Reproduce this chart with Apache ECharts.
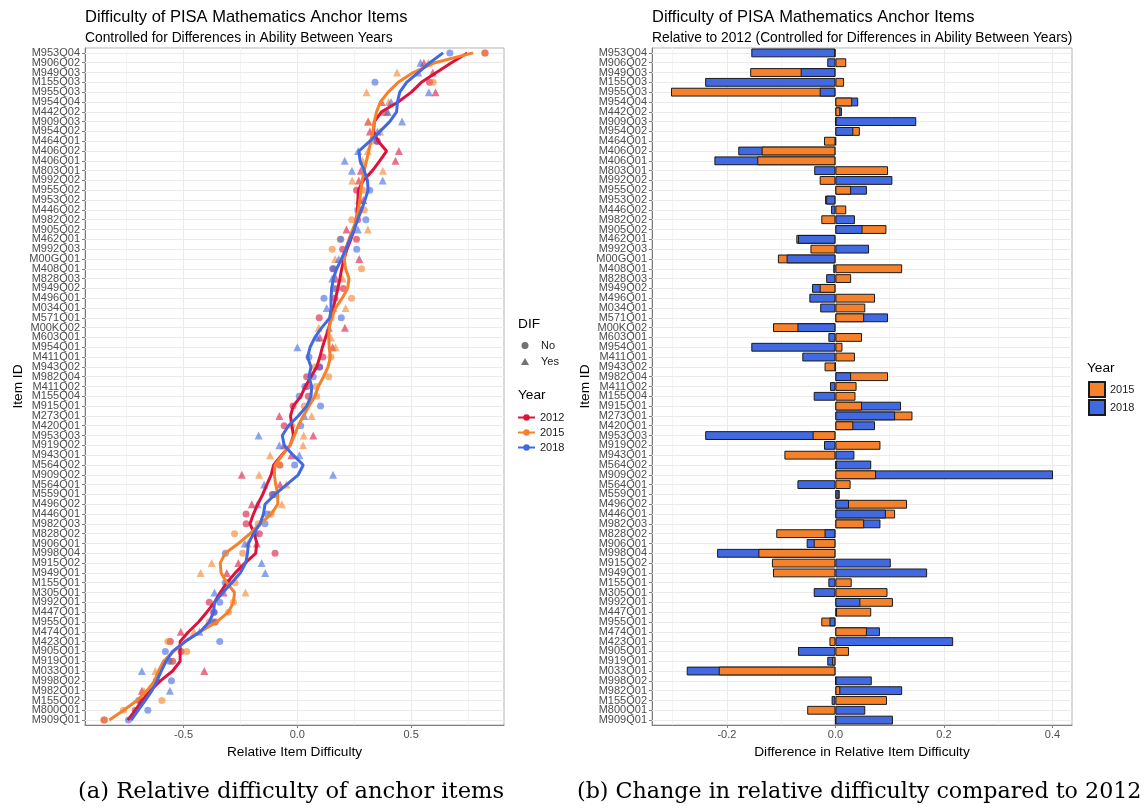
<!DOCTYPE html>
<html>
<head>
<meta charset="utf-8">
<script src="https://cdn.jsdelivr.net/npm/echarts@6/dist/echarts.min.js"></script>
<style>
  html, body { margin: 0; padding: 0; background: #fff; }
  #chart { width: 1146px; height: 809px; }
</style>
</head>
<body>
<div id="chart"></div>
<script>
// item order, top to bottom
const items = [
  'M953Q04','M906Q02','M949Q03','M155Q03','M955Q03','M954Q04','M442Q02','M909Q03','M954Q02','M464Q01',
  'M406Q02','M406Q01','M803Q01','M992Q02','M955Q02','M953Q02','M446Q02','M982Q02','M905Q02','M462Q01',
  'M992Q03','M00GQ01','M408Q01','M828Q03','M949Q02','M496Q01','M034Q01','M571Q01','M00KQ02','M603Q01',
  'M954Q01','M411Q01','M943Q02','M982Q04','M411Q02','M155Q04','M915Q01','M273Q01','M420Q01','M953Q03',
  'M919Q02','M943Q01','M564Q02','M909Q02','M564Q01','M559Q01','M496Q02','M446Q01','M982Q03','M828Q02',
  'M906Q01','M998Q04','M915Q02','M949Q01','M155Q01','M305Q01','M992Q01','M447Q01','M955Q01','M474Q01',
  'M423Q01','M905Q01','M919Q01','M033Q01','M998Q02','M982Q01','M155Q02','M800Q01','M909Q01'
];

// DIF flag per item (1 = Yes)
const dif = [
  0,1,1,0,1,1,1,1,1,0,
  1,1,1,1,0,1,0,0,1,0,
  0,1,0,1,0,0,1,0,1,1,
  1,0,0,0,0,0,0,1,0,1,
  1,1,0,1,1,0,1,0,0,0,
  1,0,1,1,0,1,0,0,0,1,
  0,0,0,1,0,1,0,0,0
];

// relative item difficulty per year (points)
const pts2012 = [
  0.825, 0.556, 0.595, 0.581, 0.607, 0.370, 0.385, 0.311, 0.319, 0.350,
  0.446, 0.431, 0.279, 0.270, 0.260, 0.290, 0.274, 0.265, 0.216, 0.260,
  0.199, 0.272, 0.159, 0.170, 0.202, 0.165, 0.157, 0.096, 0.209, 0.099,
  0.155, 0.112, 0.098, 0.041, 0.043, 0.048, -0.019, -0.079, -0.058, 0.070,
  -0.058, -0.026, -0.078, -0.244, -0.076, -0.110, -0.200, -0.225, -0.225, -0.167,
  -0.178, -0.098, -0.259, -0.310, -0.304, -0.324, -0.387, -0.368, -0.361, -0.512,
  -0.558, -0.511, -0.548, -0.409, -0.620, -0.683, -0.690, -0.712, -0.848
];
const pts2015 = [
  0.823, 0.576, 0.438, 0.597, 0.304, 0.401, 0.394, 0.312, 0.364, 0.329,
  0.310, 0.287, 0.376, 0.241, 0.289, 0.271, 0.294, 0.239, 0.310, 0.188,
  0.153, 0.166, 0.282, 0.199, 0.173, 0.238, 0.212, 0.149, 0.094, 0.148,
  0.168, 0.148, 0.078, 0.138, 0.082, 0.085, 0.030, 0.063, -0.025, 0.028,
  0.025, -0.120, -0.076, -0.168, -0.048, -0.102, -0.068, -0.115, -0.172, -0.276,
  -0.218, -0.240, -0.376, -0.425, -0.274, -0.228, -0.281, -0.302, -0.387, -0.454,
  -0.569, -0.486, -0.554, -0.624, -0.619, -0.674, -0.595, -0.764, -0.851
];
const pts2018 = [
  0.670, 0.541, 0.531, 0.341, 0.578, 0.412, 0.397, 0.460, 0.352, 0.351,
  0.267, 0.208, 0.240, 0.375, 0.318, 0.273, 0.266, 0.301, 0.266, 0.191,
  0.261, 0.182, 0.155, 0.153, 0.159, 0.117, 0.129, 0.193, 0.139, 0.086,
  0.000, 0.051, 0.097, 0.070, 0.033, 0.008, 0.102, 0.031, 0.015, -0.170,
  -0.079, 0.009, -0.012, 0.157, -0.146, -0.104, -0.175, -0.132, -0.142, -0.187,
  -0.231, -0.316, -0.157, -0.141, -0.317, -0.364, -0.341, -0.365, -0.372, -0.430,
  -0.341, -0.580, -0.563, -0.683, -0.553, -0.560, -0.697, -0.657, -0.742
];

// smoothed trend lines
const line2012 = [
  0.747, 0.677, 0.611, 0.545, 0.501, 0.443, 0.370, 0.338, 0.335, 0.355,
  0.392, 0.362, 0.330, 0.290, 0.268, 0.266, 0.264, 0.260, 0.250, 0.235,
  0.218, 0.205, 0.195, 0.187, 0.178, 0.168, 0.158, 0.148, 0.139, 0.124,
  0.110, 0.099, 0.085, 0.060, 0.035, 0.015, -0.018, -0.030, -0.024, -0.017,
  -0.032, -0.069, -0.104, -0.115, -0.134, -0.152, -0.174, -0.193, -0.208, -0.189,
  -0.178, -0.183, -0.230, -0.273, -0.310, -0.339, -0.364, -0.398, -0.434, -0.478,
  -0.515, -0.515, -0.515, -0.548, -0.602, -0.646, -0.683, -0.712, -0.745
];
const line2015 = [
  0.772, 0.604, 0.509, 0.443, 0.399, 0.365, 0.348, 0.338, 0.332, 0.323,
  0.314, 0.304, 0.294, 0.285, 0.279, 0.275, 0.268, 0.260, 0.243, 0.227,
  0.212, 0.206, 0.212, 0.227, 0.221, 0.197, 0.168, 0.151, 0.140, 0.138,
  0.140, 0.145, 0.135, 0.115, 0.092, 0.077, 0.051, 0.026, 0.004, -0.013,
  -0.032, -0.066, -0.098, -0.101, -0.095, -0.086, -0.086, -0.115, -0.164, -0.208,
  -0.259, -0.317, -0.339, -0.335, -0.310, -0.276, -0.281, -0.303, -0.354, -0.427,
  -0.493, -0.544, -0.588, -0.610, -0.627, -0.661, -0.705, -0.763, -0.826
];
const line2018 = [
  0.640, 0.582, 0.531, 0.480, 0.450, 0.440, 0.436, 0.406, 0.363, 0.319,
  0.270, 0.276, 0.294, 0.308, 0.311, 0.297, 0.282, 0.265, 0.250, 0.231,
  0.213, 0.194, 0.173, 0.158, 0.151, 0.148, 0.148, 0.143, 0.107, 0.077,
  0.056, 0.045, 0.060, 0.051, 0.063, 0.060, 0.041, 0.004, -0.039, -0.066,
  -0.058, -0.018, 0.026, 0.004, -0.047, -0.098, -0.142, -0.149, -0.164, -0.193,
  -0.215, -0.219, -0.227, -0.251, -0.288, -0.327, -0.364, -0.368, -0.387, -0.427,
  -0.493, -0.548, -0.577, -0.598, -0.617, -0.639, -0.668, -0.700, -0.730
];

// change relative to 2012
const diff2015 = [
  -0.002, 0.020, -0.157, 0.016, -0.303, 0.031, 0.009, 0.001, 0.045, -0.021,
  -0.136, -0.144, 0.097, -0.029, 0.029, -0.019, 0.020, -0.026, 0.094, -0.072,
  -0.046, -0.106, 0.123, 0.029, -0.029, 0.073, 0.055, 0.053, -0.115, 0.049,
  0.013, 0.036, -0.020, 0.097, 0.039, 0.037, 0.049, 0.142, 0.033, -0.042,
  0.083, -0.094, 0.002, 0.075, 0.028, 0.008, 0.132, 0.110, 0.053, -0.109,
  -0.040, -0.142, -0.117, -0.115, 0.030, 0.096, 0.106, 0.066, -0.026, 0.058,
  -0.011, 0.025, -0.006, -0.215, 0.001, 0.009, 0.095, -0.052, 0.000
];
const diff2018 = [
  -0.155, -0.015, -0.064, -0.240, -0.029, 0.042, 0.012, 0.149, 0.033, 0.001,
  -0.179, -0.223, -0.039, 0.105, 0.058, -0.017, -0.008, 0.036, 0.050, -0.069,
  0.062, -0.090, -0.004, -0.017, -0.043, -0.048, -0.028, 0.097, -0.070, -0.013,
  -0.155, -0.061, 0.000, 0.029, -0.010, -0.040, 0.121, 0.110, 0.073, -0.240,
  -0.021, 0.035, 0.066, 0.401, -0.070, 0.006, 0.025, 0.093, 0.083, -0.020,
  -0.053, -0.218, 0.102, 0.169, -0.013, -0.040, 0.046, 0.003, -0.011, 0.082,
  0.217, -0.069, -0.015, -0.274, 0.067, 0.123, -0.007, 0.055, 0.106
];

const leftTicks = [-0.5, 0, 0.5];
const leftMinor = [-0.75, -0.25, 0.25, 0.75];
const rightTicks = [-0.2, 0, 0.2, 0.4];
const rightMinor = [-0.3, -0.1, 0.1, 0.3];

const FONT = '"Liberation Sans", Arial, sans-serif';
const RED = '#DC143C';
const ORANGE = '#F5822A';
const BLUE = '#4169E1';

const chart = echarts.init(document.getElementById('chart'));

function gridLines(xi, major, minor) {
  const data = [];
  major.forEach(v => data.push({ xAxis: v, lineStyle: { color: '#EBEBEB', width: 1, type: 'solid' } }));
  minor.forEach(v => data.push({ xAxis: v, lineStyle: { color: '#F4F4F4', width: 1, type: 'solid' } }));
  items.forEach((n, i) => data.push({ yAxis: i, lineStyle: { color: '#EBEBEB', width: 1, type: 'solid' } }));
  return {
    type: 'line', xAxisIndex: xi, yAxisIndex: xi, data: [], silent: true,
    markLine: {
      z: 1, silent: true, animation: false, symbol: ['none', 'none'],
      label: { show: false }, emphasis: { disabled: true },
      data: data
    }
  };
}

function pointSeries(vals, color) {
  return {
    type: 'scatter', xAxisIndex: 0, yAxisIndex: 0, silent: true, z: 2,
    itemStyle: { color: color, opacity: 0.6 },
    data: vals.map((v, i) => ({
      value: [v, i],
      symbol: dif[i] ? 'triangle' : 'circle',
      symbolSize: dif[i] ? 8 : 7
    }))
  };
}

function trendSeries(name, vals, color) {
  return {
    name: name, type: 'line', xAxisIndex: 0, yAxisIndex: 0, silent: true, z: 3,
    symbol: 'circle', symbolSize: 6, showSymbol: false,
    lineStyle: { color: color, width: 3 },
    itemStyle: { color: color },
    data: vals.map((v, i) => [v, i])
  };
}

// the shorter bar of each row is drawn on top
function barSeries(name, own, other, front, color) {
  return {
    name: name, type: 'bar', xAxisIndex: 1, yAxisIndex: 1, silent: true,
    barWidth: '90%', barGap: '-100%',
    itemStyle: { color: color, borderColor: '#1A1A1A', borderWidth: 1 },
    data: own.map((v, i) => {
      const isFront = Math.abs(v) < Math.abs(other[i]);
      return isFront === front ? v : '-';
    })
  };
}

function valueAxis(gi, min, max, ticks, name) {
  return {
    gridIndex: gi, type: 'value', min: min, max: max,
    splitLine: { show: false },
    axisLine: { show: true, onZero: false, lineStyle: { color: '#7F7F7F' } },
    axisTick: { show: true, length: 3, customValues: ticks, lineStyle: { color: '#7F7F7F' } },
    axisLabel: { customValues: ticks, formatter: v => v.toFixed(1), fontSize: 11, color: '#4D4D4D', margin: 4, fontFamily: FONT },
    name: name, nameLocation: 'middle', nameGap: 15,
    nameTextStyle: { fontSize: 13.7, color: '#000', fontFamily: FONT }
  };
}

function itemAxis(gi) {
  return {
    gridIndex: gi, type: 'category', data: items, inverse: true,
    axisLine: { show: true, onZero: false, lineStyle: { color: '#7F7F7F' } },
    axisTick: { show: true, alignWithLabel: true, interval: 0, length: 3, lineStyle: { color: '#7F7F7F' } },
    axisLabel: { interval: 0, fontSize: 11, color: '#4D4D4D', margin: 5, fontFamily: FONT },
    splitLine: { show: false },
    name: 'Item ID', nameLocation: 'middle', nameGap: 60,
    nameTextStyle: { fontSize: 13.7, color: '#000', fontFamily: FONT }
  };
}

const titleStyle = { fontSize: 16.5, fontWeight: 'normal', color: '#000', fontFamily: FONT };
const subStyle = { fontSize: 13.8, color: '#000', fontFamily: FONT };
const legTitle = { fontSize: 13.7, fontWeight: 'normal', color: '#000', fontFamily: FONT };
const capFont = '"DejaVu Serif", serif';
const legText = { fontSize: 11, color: '#1A1A1A', fontFamily: FONT };

const option = {
  animation: false,
  backgroundColor: '#fff',
  title: [
    { text: 'Difficulty of PISA Mathematics Anchor Items', subtext: 'Controlled for Differences in Ability Between Years',
      left: 85, top: 9, padding: 0, itemGap: 5, textStyle: titleStyle, subtextStyle: subStyle },
    { text: 'Difficulty of PISA Mathematics Anchor Items', subtext: 'Relative to 2012 (Controlled for Differences in Ability Between Years)',
      left: 652, top: 9, padding: 0, itemGap: 5, textStyle: titleStyle, subtextStyle: subStyle },
    { text: 'DIF', left: 518, top: 317, padding: 0, textStyle: legTitle },
    { text: 'Year', left: 518, top: 388, padding: 0, textStyle: legTitle },
    { text: 'Year', left: 1087, top: 361, padding: 0, textStyle: legTitle },
    { text: '(a) Relative difficulty of anchor items', left: 78, top: 781, padding: 0,
      textStyle: { fontSize: 22.6, fontWeight: 'normal', color: '#000', fontFamily: capFont } },
    { text: '(b) Change in relative difficulty compared to 2012', left: 577, top: 781, padding: 0,
      textStyle: { fontSize: 22.2, fontWeight: 'normal', color: '#000', fontFamily: capFont } }
  ],
  legend: [
    { data: [{ name: 'No', icon: 'circle' }, { name: 'Yes', icon: 'triangle' }], orient: 'vertical', left: 521, top: 340, padding: 0,
      itemWidth: 8, itemHeight: 7, itemGap: 5, selectedMode: false,
      textStyle: Object.assign({ padding: [0, 0, 0, 7] }, legText) },
    { data: ['2012', '2015', '2018'], orient: 'vertical', left: 517, top: 412, padding: 0,
      itemWidth: 17, itemHeight: 8, itemGap: 4, selectedMode: false, textStyle: legText },
    { data: ['2015 ', '2018 '], orient: 'vertical', left: 1088, top: 381, padding: 0, icon: 'rect',
      itemWidth: 16, itemHeight: 15, itemGap: 1, selectedMode: false,
      formatter: n => n.trim(), textStyle: legText }
  ],
  grid: [
    { left: 85, top: 48, width: 419, height: 677, show: true, borderColor: '#B3B3B3', borderWidth: 1, backgroundColor: '#fff' },
    { left: 652, top: 48, width: 420, height: 677, show: true, borderColor: '#B3B3B3', borderWidth: 1, backgroundColor: '#fff' }
  ],
  xAxis: [
    valueAxis(0, -0.933, 0.908, leftTicks, 'Relative Item Difficulty'),
    valueAxis(1, -0.338, 0.436, rightTicks, 'Difference in Relative Item Difficulty')
  ],
  yAxis: [itemAxis(0), itemAxis(1)],
  series: [
    gridLines(0, leftTicks, leftMinor),
    gridLines(1, rightTicks, rightMinor),
    { name: 'No', type: 'scatter', xAxisIndex: 0, yAxisIndex: 0, symbol: 'circle', symbolSize: 7, itemStyle: { color: '#4D4D4D' }, data: [] },
    { name: 'Yes', type: 'scatter', xAxisIndex: 0, yAxisIndex: 0, symbol: 'triangle', symbolSize: 7, itemStyle: { color: '#4D4D4D' }, data: [] },
    pointSeries(pts2012, RED),
    pointSeries(pts2015, ORANGE),
    pointSeries(pts2018, BLUE),
    trendSeries('2012', line2012, RED),
    trendSeries('2015', line2015, ORANGE),
    trendSeries('2018', line2018, BLUE),
    barSeries('2015 ', diff2015, diff2018, false, ORANGE),
    barSeries('2018 ', diff2018, diff2015, false, BLUE),
    barSeries('2015 ', diff2015, diff2018, true, ORANGE),
    barSeries('2018 ', diff2018, diff2015, true, BLUE)
  ]
};

chart.setOption(option);
</script>
</body>
</html>
